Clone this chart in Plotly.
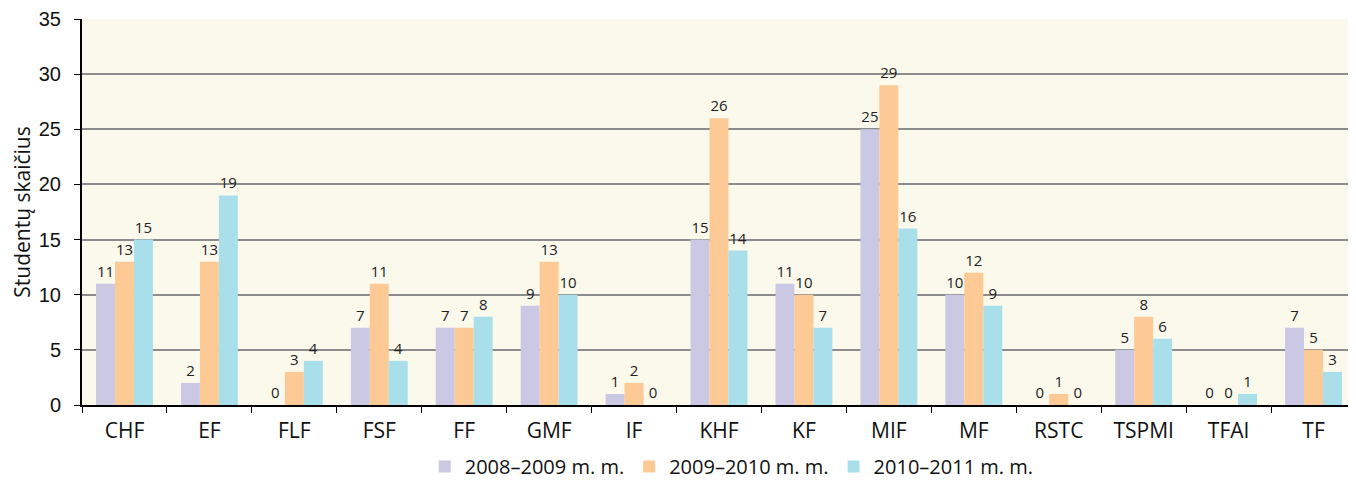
import plotly.graph_objects as go

categories = ["CHF", "EF", "FLF", "FSF", "FF", "GMF", "IF", "KHF", "KF", "MIF", "MF", "RSTC", "TSPMI", "TFAI", "TF"]
s2008 = [11, 2, 0, 7, 7, 9, 1, 15, 11, 25, 10, 0, 5, 0, 7]
s2009 = [13, 13, 3, 11, 7, 13, 2, 26, 10, 29, 12, 1, 8, 0, 5]
s2010 = [15, 19, 4, 4, 8, 10, 0, 14, 7, 16, 9, 0, 6, 1, 3]
names = ["2008–2009 m. m.", "2009–2010 m. m.", "2010–2011 m. m."]
colors = ["#CBC8E4", "#FDC994", "#A9DFEB"]

fig = go.Figure()
for name, vals, col in zip(names, [s2008, s2009, s2010], colors):
    fig.add_trace(go.Bar(
        x=categories, y=vals, name=name, marker=dict(color=col, line=dict(width=0)),
        text=[str(v) for v in vals], textposition="outside", cliponaxis=False,
        textfont=dict(size=15, color="#222", family="Open Sans"),
    ))

# page body has an 8px default margin, so the figure is sized to end at the window edge
fig.update_layout(
    width=1348, height=478,
    margin=dict(l=74, r=0, t=11, b=80),
    paper_bgcolor="white", plot_bgcolor="#FAF9EC",
    barmode="group", bargap=0.33, bargroupgap=0,
    uniformtext=dict(minsize=15, mode="show"),
    font=dict(family="Open Sans", size=19, color="#111"),
    legend=dict(orientation="h", x=0.51, xanchor="center", y=-0.11, yanchor="top",
                font=dict(size=20), traceorder="normal"),
    showlegend=True,
)
fig.update_yaxes(range=[0, 35], dtick=5, showgrid=True, gridcolor="#8C8C8C", gridwidth=1.5,
                 showline=True, linecolor="black", linewidth=2, ticks="outside", ticklen=6,
                 tickcolor="black", tickfont=dict(family="Liberation Sans", size=20),
                 ticklabelstandoff=9,
                 title=dict(text="Studentų skaičius", font=dict(size=21), standoff=4),
                 zeroline=False, automargin=False)
fig.update_xaxes(showline=True, linecolor="black", linewidth=2, ticks="outside", ticklen=6,
                 tickcolor="black", tickson="boundaries", tickfont=dict(size=21),
                 ticklabelstandoff=6, automargin=False)
fig.write_html("out.html")
